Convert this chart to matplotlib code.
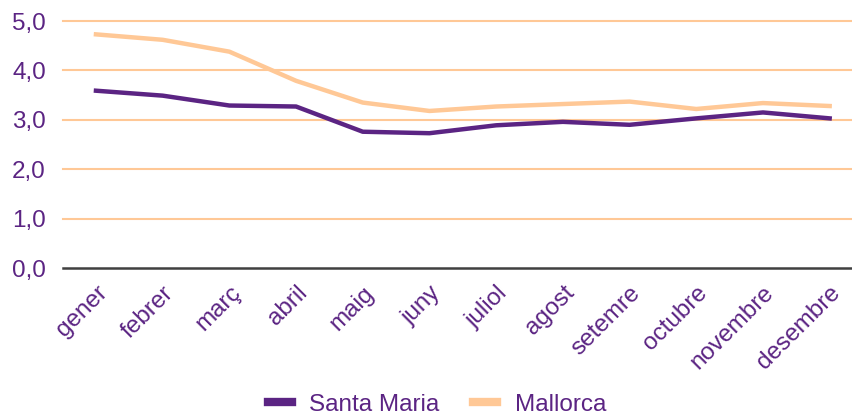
import numpy as np
import matplotlib.pyplot as plt

plt.rcParams['font.family'] = ['Liberation Sans', 'DejaVu Sans']

months = ['gener', 'febrer', 'març', 'abril', 'maig', 'juny', 'juliol',
          'agost', 'setemre', 'octubre', 'novembre', 'desembre']
santa_maria = [3.59, 3.49, 3.29, 3.27, 2.76, 2.73, 2.89, 2.96, 2.90, 3.03, 3.15, 3.03]
mallorca = [4.73, 4.62, 4.38, 3.79, 3.35, 3.18, 3.27, 3.32, 3.37, 3.22, 3.34, 3.28]
yticks = [0, 1, 2, 3, 4, 5]

purple = '#5b2483'
orange = '#ffc896'

fig = plt.figure(figsize=(8.53, 4.17), dpi=100)
ax = fig.add_axes([0.0734, 0.357, 0.9266, 0.5926])

x = np.arange(len(months))
for yv in yticks[1:]:
    ax.axhline(yv, color=orange, lw=1.5, zorder=1, clip_on=False)
ax.axhline(0, color='#404040', lw=1.8, zorder=3, clip_on=False)

ax.plot(x, santa_maria, color=purple, lw=3.2, label='Santa Maria', zorder=4)
ax.plot(x, mallorca, color=orange, lw=3.2, label='Mallorca', zorder=4)

ax.set_xlim(-0.5, 11.35)
ax.set_ylim(0, 5)
ax.set_yticks(yticks)
ax.set_yticklabels([f'{v:.1f}'.replace('.', ',') for v in yticks])
ax.set_xticks(x)
ax.set_xticklabels(months, rotation=45, ha='right', rotation_mode='anchor')
ax.tick_params(axis='both', length=0, labelsize=17.5, labelcolor=purple)
ax.tick_params(axis='x', pad=10)
ax.tick_params(axis='y', pad=12)
for s in ax.spines.values():
    s.set_visible(False)

leg = fig.legend(loc='lower center', bbox_to_anchor=(0.512, -0.05), ncol=2,
                 frameon=False, fontsize=17.5, handlelength=1.0, columnspacing=1.4,
                 handletextpad=0.7)
for h in leg.get_lines():
    h.set_linewidth(6)
for t in leg.get_texts():
    t.set_color(purple)

fig.savefig('out.png', dpi=100)
